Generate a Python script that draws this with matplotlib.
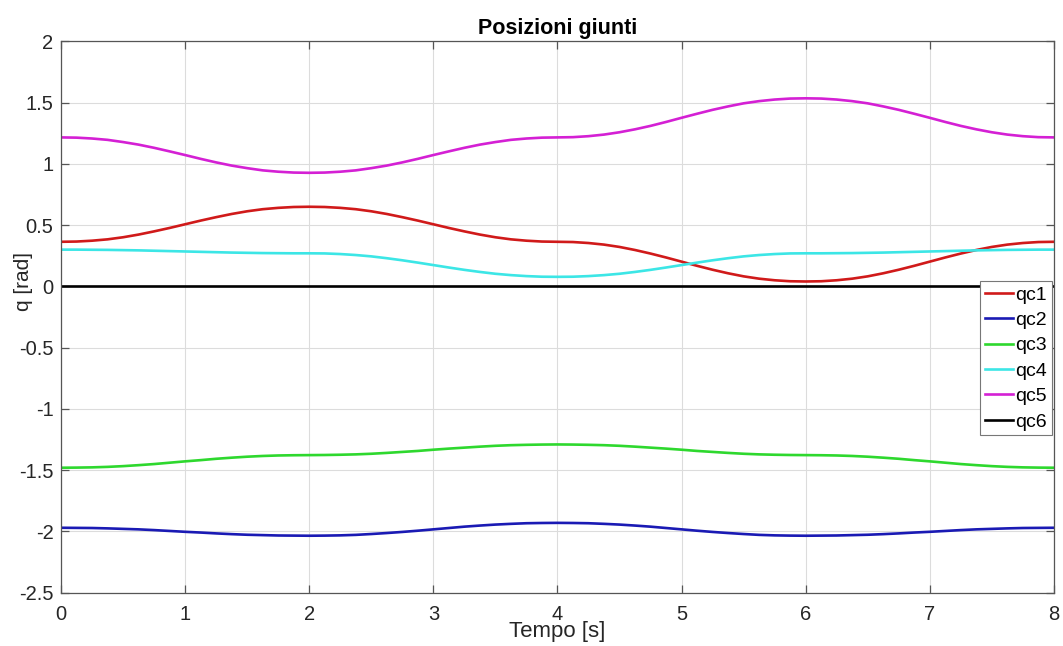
import matplotlib
matplotlib.use("Agg")
import matplotlib.pyplot as plt

# sample times [s]
tempo = [0.0, 0.125, 0.25, 0.375, 0.5, 0.625, 0.75, 0.875,
         1.0, 1.125, 1.25, 1.375, 1.5, 1.625, 1.75, 1.875,
         2.0, 2.125, 2.25, 2.375, 2.5, 2.625, 2.75, 2.875,
         3.0, 3.125, 3.25, 3.375, 3.5, 3.625, 3.75, 3.875,
         4.0, 4.125, 4.25, 4.375, 4.5, 4.625, 4.75, 4.875,
         5.0, 5.125, 5.25, 5.375, 5.5, 5.625, 5.75, 5.875,
         6.0, 6.125, 6.25, 6.375, 6.5, 6.625, 6.75, 6.875,
         7.0, 7.125, 7.25, 7.375, 7.5, 7.625, 7.75, 7.875, 8.0]

# joint positions [rad]
qc1 = [0.364, 0.366, 0.373, 0.384, 0.401, 0.423, 0.449, 0.477,
       0.507, 0.537, 0.565, 0.591, 0.613, 0.630, 0.641, 0.648,
       0.650, 0.648, 0.641, 0.630, 0.613, 0.591, 0.565, 0.537,
       0.507, 0.477, 0.449, 0.423, 0.401, 0.384, 0.373, 0.366,
       0.364, 0.362, 0.354, 0.341, 0.322, 0.297, 0.268, 0.236,
       0.202, 0.168, 0.136, 0.107, 0.082, 0.063, 0.050, 0.042,
       0.040, 0.042, 0.050, 0.063, 0.082, 0.107, 0.136, 0.168,
       0.202, 0.236, 0.268, 0.297, 0.322, 0.341, 0.354, 0.362, 0.364]
qc2 = [-1.970, -1.971, -1.972, -1.975, -1.979, -1.983, -1.989, -1.996,
       -2.003, -2.009, -2.016, -2.022, -2.027, -2.030, -2.033, -2.034,
       -2.035, -2.034, -2.032, -2.028, -2.021, -2.013, -2.004, -1.994,
       -1.983, -1.972, -1.961, -1.952, -1.944, -1.938, -1.933, -1.931,
       -1.930, -1.931, -1.933, -1.938, -1.944, -1.952, -1.961, -1.972,
       -1.983, -1.994, -2.004, -2.013, -2.021, -2.028, -2.032, -2.034,
       -2.035, -2.034, -2.033, -2.030, -2.027, -2.022, -2.016, -2.009,
       -2.003, -1.996, -1.989, -1.983, -1.979, -1.975, -1.972, -1.971, -1.970]
qc3 = [-1.480, -1.479, -1.477, -1.473, -1.467, -1.459, -1.450, -1.439,
       -1.428, -1.418, -1.407, -1.398, -1.390, -1.384, -1.380, -1.378,
       -1.377, -1.376, -1.374, -1.371, -1.366, -1.359, -1.351, -1.343,
       -1.333, -1.324, -1.316, -1.308, -1.301, -1.296, -1.293, -1.291,
       -1.290, -1.291, -1.293, -1.296, -1.301, -1.308, -1.316, -1.324,
       -1.333, -1.343, -1.351, -1.359, -1.366, -1.371, -1.374, -1.376,
       -1.377, -1.378, -1.380, -1.384, -1.390, -1.398, -1.407, -1.418,
       -1.428, -1.439, -1.450, -1.459, -1.467, -1.473, -1.477, -1.479, -1.480]
qc4 = [0.300, 0.300, 0.299, 0.298, 0.296, 0.294, 0.291, 0.288,
       0.285, 0.282, 0.279, 0.276, 0.274, 0.272, 0.271, 0.270,
       0.270, 0.269, 0.264, 0.256, 0.245, 0.230, 0.213, 0.194,
       0.174, 0.154, 0.135, 0.118, 0.103, 0.092, 0.084, 0.079,
       0.078, 0.079, 0.084, 0.092, 0.103, 0.118, 0.135, 0.154,
       0.174, 0.194, 0.213, 0.230, 0.245, 0.256, 0.264, 0.269,
       0.270, 0.270, 0.271, 0.272, 0.274, 0.276, 0.279, 0.282,
       0.285, 0.288, 0.291, 0.294, 0.296, 0.298, 0.299, 0.300, 0.300]
qc5 = [1.216, 1.214, 1.207, 1.196, 1.178, 1.157, 1.131, 1.102,
       1.072, 1.041, 1.012, 0.986, 0.965, 0.947, 0.936, 0.929,
       0.927, 0.929, 0.936, 0.947, 0.965, 0.986, 1.012, 1.041,
       1.072, 1.102, 1.131, 1.157, 1.178, 1.196, 1.207, 1.214,
       1.216, 1.218, 1.226, 1.239, 1.258, 1.282, 1.310, 1.342,
       1.376, 1.409, 1.441, 1.469, 1.494, 1.512, 1.525, 1.533,
       1.535, 1.533, 1.525, 1.512, 1.494, 1.469, 1.441, 1.409,
       1.376, 1.342, 1.310, 1.282, 1.258, 1.239, 1.226, 1.218, 1.216]
qc6 = [0.0] * len(tempo)

labels = ["qc1", "qc2", "qc3", "qc4", "qc5", "qc6"]
colors = ["#d01a1a", "#1a1ab4", "#2ed82e", "#3ce6e6", "#d420d4", "#000000"]

plt.rcParams["font.family"] = ["Liberation Sans", "DejaVu Sans"]

fig = plt.figure(figsize=(10.63, 6.46), dpi=100)
ax = fig.add_axes([0.0574, 0.0825, 0.934, 0.8535])

for q, lab, col in zip([qc1, qc2, qc3, qc4, qc5, qc6], labels, colors):
    ax.plot(tempo, q, color=col, linewidth=1.9, label=lab)

ax.set_xlim(0, 8)
ax.set_ylim(-2.5, 2)
ax.set_xticks(range(0, 9))
ax.set_yticks([-2.5, -2, -1.5, -1, -0.5, 0, 0.5, 1, 1.5, 2])
ax.set_yticklabels(["-2.5", "-2", "-1.5", "-1", "-0.5", "0", "0.5", "1", "1.5", "2"])

ax.grid(True, color="#dcdcdc", linewidth=0.8)
ax.set_axisbelow(True)
for sp in ax.spines.values():
    sp.set_color("#555555")
    sp.set_linewidth(0.9)
ax.tick_params(direction="in", length=6, width=0.9, color="#555555",
               top=True, right=True, labelsize=14.5, labelcolor="#262626")
ax.tick_params(axis="x", pad=8.5)
ax.tick_params(axis="y", pad=5.5)

ax.set_title("Posizioni giunti", fontsize=15.5, fontweight="bold", pad=5)
ax.set_xlabel("Tempo [s]", fontsize=16, color="#262626", labelpad=-1.5)
ax.set_ylabel("q [rad]", fontsize=15, color="#262626")
# y label tucked in next to the short tick labels
ax.yaxis.set_label_coords(-0.028, 0.565)

leg = ax.legend(loc="upper right", bbox_to_anchor=(0.998, 0.565), fontsize=14,
                frameon=True, fancybox=False, framealpha=1, edgecolor="#777777",
                handlelength=1.45, handletextpad=0.1, labelspacing=0.4,
                borderpad=0.25, borderaxespad=0)
leg.get_frame().set_linewidth(0.8)

fig.savefig("out.png", dpi=100)
